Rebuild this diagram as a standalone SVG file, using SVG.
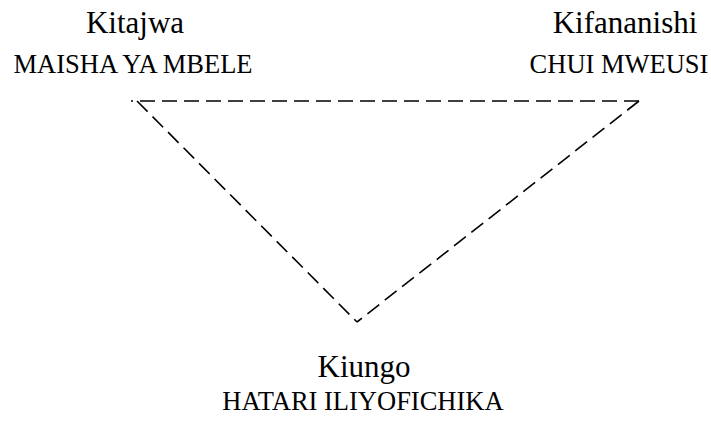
<svg xmlns="http://www.w3.org/2000/svg" width="711" height="421" viewBox="0 0 711 421">
  <style>
    .title { font-family: "Liberation Serif", "Times New Roman", serif; font-size: 31px; fill: #000; text-anchor: middle; }
    .sub { font-family: "Liberation Serif", "Times New Roman", serif; font-size: 26.5px; fill: #000; text-anchor: middle; }
    .edge { stroke: #000; stroke-width: 1.6; stroke-dasharray: 15 7; fill: none; }
  </style>
  <rect width="711" height="421" fill="#fff"/>
  <g id="connectors">
    <line class="edge" x1="639" y1="101" x2="131" y2="101"/>
    <line class="edge" x1="137" y1="101" x2="357" y2="322"/>
    <line class="edge" x1="639" y1="101" x2="357" y2="322"/>
  </g>
  <g id="kitajwa">
    <text class="title" x="135" y="33">Kitajwa</text>
    <text class="sub" x="133" y="73">MAISHA YA MBELE</text>
  </g>
  <g id="kifananishi">
    <text class="title" x="625" y="33">Kifananishi</text>
    <text class="sub" x="619" y="73">CHUI MWEUSI</text>
  </g>
  <g id="kiungo">
    <text class="title" x="364" y="377">Kiungo</text>
    <text class="sub" x="363" y="410">HATARI ILIYOFICHIKA</text>
  </g>
</svg>
